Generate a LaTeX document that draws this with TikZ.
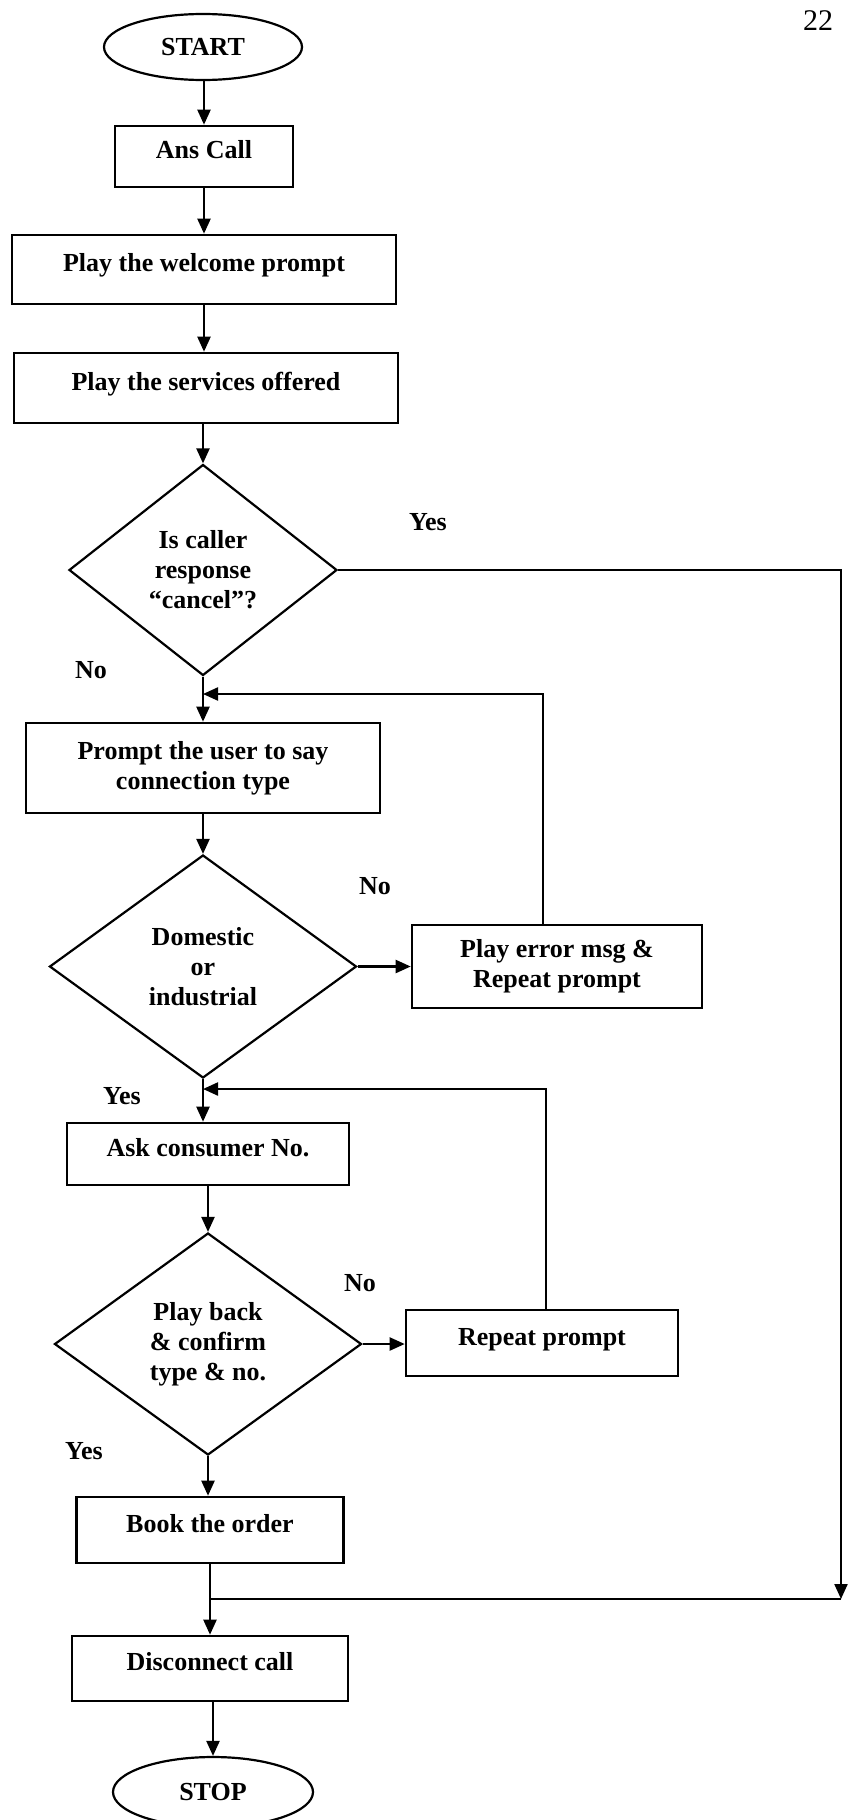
\documentclass[tikz,border=0pt]{standalone}
\usepackage{fontspec}
\setmainfont{Liberation Serif}
\usetikzlibrary{shapes.geometric,arrows.meta}
\begin{document}
\begin{tikzpicture}[x=1pt,y=-1pt,
  every node/.style={font=\bfseries\fontsize{26pt}{30pt}\selectfont},
  box/.style={draw, line width=2.6pt, rectangle, inner sep=0pt, align=center},
  onel/.style={text height=18pt, text depth=14pt},
  dec/.style={draw, line width=2.2pt, diamond, aspect=1, inner sep=0pt, align=center},
  term/.style={draw, line width=2.2pt, ellipse, inner sep=0pt},
  arr/.style={line width=2.2pt, -{Triangle[length=15pt,width=13pt]}},
  ln/.style={line width=2.2pt},
  lbl/.style={inner sep=0pt}]
\useasboundingbox (0,0) rectangle (854,1820);

\node[font=\fontsize{30pt}{30pt}\selectfont, inner sep=0pt] (pg) at (818,21) {22};

\node[term, minimum width=198pt, minimum height=66pt] (start) at (203,47) {START};
\node[box, onel, minimum width=178pt, minimum height=61pt] (ans) at (204,156.5) {Ans Call};
\node[box, onel, minimum width=384pt, minimum height=69pt] (welcome) at (204,269.5) {Play the welcome prompt};
\node[box, onel, minimum width=384pt, minimum height=70pt] (services) at (206,388) {Play the services offered};
\node[dec, minimum width=268pt, minimum height=211pt] (d1) at (203,570) {Is caller\\response\\“cancel”?};
\node[box, minimum width=354pt, minimum height=90pt] (prompt) at (203,768) {Prompt the user to say\\connection type};
\node[dec, minimum width=307pt, minimum height=223pt] (d2) at (203,966.5) {Domestic\\or\\industrial};
\node[box, minimum width=290pt, minimum height=83pt] (error) at (557,966.5) {Play error msg \&\\Repeat prompt};
\node[box, onel, minimum width=282pt, minimum height=62pt] (ask) at (208,1154) {Ask consumer No.};
\node[dec, minimum width=307pt, minimum height=222pt] (d3) at (208,1344) {Play back\\\& confirm\\type \& no.};
\node[box, onel, minimum width=272pt, minimum height=66pt] (repeat) at (542,1343) {Repeat prompt};
\node[box, onel, minimum width=267pt, minimum height=66pt] (book) at (210,1530) {Book the order};
\node[box, onel, minimum width=276pt, minimum height=65pt] (disc) at (210,1668.5) {Disconnect call};
\node[term, minimum width=200pt, minimum height=70pt] (stop) at (213,1792) {STOP};

\node[lbl] (y1) at (428,522) {Yes};
\node[lbl] (n1) at (91,670) {No};
\node[lbl] (n2) at (375,886) {No};
\node[lbl] (y2) at (122,1096) {Yes};
\node[lbl] (n3) at (360,1283) {No};
\node[lbl] (y3) at (84,1451) {Yes};

\draw[arr] (ans.north |- start.south) -- (ans.north);
\draw[arr] (ans.south) -- (ans.south |- welcome.north);
\draw[arr] (welcome.south) -- (welcome.south |- services.north);
\draw[arr] (d1.north |- services.south) -- (d1.north);
\draw[arr] (d1.south) -- (d1.south |- prompt.north);
\draw[arr] (prompt.south) -- (d2.north);
\draw[arr] (d2.east) -- (d2.east -| error.west);
\coordinate (m1) at (203,694);
\draw[arr] ([xshift=-14pt]error.north) |- (m1);
\draw[arr] (d2.south) -- (d2.south |- ask.north);
\coordinate (m2) at (203,1089);
\draw[arr] ([xshift=4pt]repeat.north) |- (m2);
\draw[arr] (ask.south) -- (d3.north);
\draw[arr] (d3.east) -- (d3.east -| repeat.west);
\draw[arr] (d3.south) -- (d3.south |- book.north);
\draw[arr] (book.south) -- (disc.north);
\coordinate (c1) at (841,1599);
\coordinate (m3) at (210,1599);
\draw[arr] (d1.east) -| (c1);
\draw[ln] (c1) -- (m3);
\draw[arr] (disc.south -| stop.north) -- (stop.north);
\end{tikzpicture}
\end{document}
